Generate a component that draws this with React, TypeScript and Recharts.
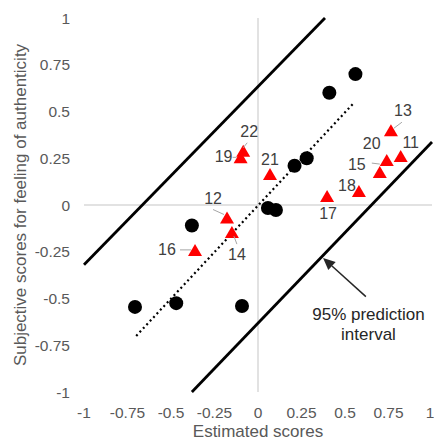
import React from 'react';
import { ScatterChart, Scatter, XAxis, YAxis, ReferenceLine, ReferenceDot } from 'recharts';

// Black circles (estimated score, subjective score)
const circleX = [-0.707, -0.47, -0.38, -0.092, 0.057, 0.103, 0.21, 0.28, 0.41, 0.56];
const circleY = [-0.545, -0.525, -0.11, -0.54, -0.016, -0.027, 0.21, 0.25, 0.6, 0.7];

// Red triangles with their IDs
const triangleIds = [11, 12, 13, 14, 15, 16, 17, 18, 19, 20, 21, 22];
const triangleX = [0.82, -0.178, 0.764, -0.15, 0.7, -0.362, 0.397, 0.58, -0.1, 0.74, 0.069, -0.085];
const triangleY = [0.262, -0.067, 0.4, -0.145, 0.176, -0.24, 0.048, 0.075, 0.255, 0.24, 0.166, 0.29];

// Axis ticks
const axisTicks = [-1, -0.75, -0.5, -0.25, 0, 0.25, 0.5, 0.75, 1];

// Regression line and 95% prediction interval
const regressionLine = [{ x: -0.7, y: -0.7 }, { x: 0.555, y: 0.55 }];
const upperInterval = [{ x: -1, y: -0.32 }, { x: 0.385, y: 1 }];
const lowerInterval = [{ x: -0.38, y: -1 }, { x: 1, y: 0.337 }];
const arrowSegment = [{ x: 0.62, y: -0.49 }, { x: 0.374, y: -0.283 }];
const annotationAnchor = { x: 0.635, y: -0.615 };
const annotationLines = ['95% prediction', 'interval'];

const xTitle = 'Estimated scores';
const yTitle = 'Subjective scores for feeling of authenticity';

// label placement (pixel offsets from the marker)
const labelLayout: Record<number, { dx: number; dy: number; leader?: number[] }> = {
  11: { dx: 10, dy: -14 },
  12: { dx: -14, dy: -19, leader: [-14, -8, -3, -3] },
  13: { dx: 12, dy: -20, leader: [11, -8, 3, -2] },
  14: { dx: 5, dy: 22, leader: [5, 12, 2, 4] },
  15: { dx: -23, dy: -8, leader: [-8, -9, 0, -8] },
  16: { dx: -28, dy: 0, leader: [-15, 0, -4, 0] },
  17: { dx: 1, dy: 17 },
  18: { dx: -12, dy: -5 },
  19: { dx: -17, dy: -1, leader: [-8, 0, -4, 0] },
  20: { dx: -15, dy: -17 },
  21: { dx: 0, dy: -14 },
  22: { dx: 6, dy: -19, leader: [4, -8, 0, -3] },
};

const circleData = circleX.map((x, i) => ({ x, y: circleY[i] }));
const triangleData = triangleIds.map((id, i) => ({ id, x: triangleX[i], y: triangleY[i] }));

const FONT = "Arial, 'Liberation Sans', sans-serif";
const TICK_COLOR = '#595959';

const CircleShape = (props: any) => {
  const { cx, cy } = props;
  if (cx == null || cy == null) return null;
  return <circle cx={cx} cy={cy} r={7} fill="#000" />;
};

const TriangleShape = (props: any) => {
  const { cx, cy } = props;
  if (cx == null || cy == null) return null;
  const w = 14;
  const h = 12;
  const d = `M${cx},${cy - h / 2} L${cx + w / 2},${cy + h / 2} L${cx - w / 2},${cy + h / 2} Z`;
  return <path d={d} fill="#ff0000" />;
};

const LabelShape = (props: any) => {
  const { cx, cy, payload } = props;
  if (cx == null || cy == null || !payload) return null;
  const lay = labelLayout[payload.id];
  if (!lay) return null;
  return (
    <g>
      {lay.leader && (
        <line
          x1={cx + lay.leader[0]}
          y1={cy + lay.leader[1]}
          x2={cx + lay.leader[2]}
          y2={cy + lay.leader[3]}
          stroke="#a6a6a6"
          strokeWidth={1}
        />
      )}
      <text
        x={cx + lay.dx}
        y={cy + lay.dy}
        textAnchor="middle"
        dominantBaseline="central"
        fontSize={16}
        fill="#404040"
        fontFamily={FONT}
      >
        {payload.id}
      </text>
    </g>
  );
};

const ArrowShape = (props: any) => {
  const { x1, y1, x2, y2 } = props;
  if ([x1, y1, x2, y2].some((v) => v == null || isNaN(v))) return null;
  const ang = Math.atan2(y2 - y1, x2 - x1);
  const len = 12;
  const hw = 5.5;
  const bx = x2 - len * Math.cos(ang);
  const by = y2 - len * Math.sin(ang);
  const px = -Math.sin(ang) * hw;
  const py = Math.cos(ang) * hw;
  return (
    <g>
      <line x1={x1} y1={y1} x2={bx} y2={by} stroke="#262626" strokeWidth={1.5} />
      <path d={`M${x2},${y2} L${bx + px},${by + py} L${bx - px},${by - py} Z`} fill="#262626" />
    </g>
  );
};

const AnnotationShape = (props: any) => {
  const { cx, cy } = props;
  if (cx == null || cy == null) return null;
  return (
    <text x={cx} y={cy} textAnchor="middle" fontSize={17} fill="#262626" fontFamily={FONT}>
      {annotationLines.map((t, i) => (
        <tspan key={i} x={cx} dy={i === 0 ? 0 : 20}>
          {t}
        </tspan>
      ))}
    </text>
  );
};

export default function App() {
  return (
    <div style={{ position: 'absolute', left: 0, top: 0, width: 434, height: 442, background: '#fff' }}>
      <ScatterChart
        width={434}
        height={442}
        margin={{ top: 18, right: 2, bottom: 0, left: 0 }}
        style={{ fontFamily: FONT }}
      >
        <XAxis
          type="number"
          dataKey="x"
          domain={[-1, 1]}
          ticks={axisTicks}
          allowDataOverflow
          axisLine={false}
          tickLine={false}
          tickSize={6}
          tickMargin={9}
          height={50}
          tick={{ fill: TICK_COLOR, fontSize: 15.5 }}
          label={{ value: xTitle, position: 'insideBottom', offset: 5, fill: TICK_COLOR, fontSize: 17 }}
        />
        <YAxis
          type="number"
          dataKey="y"
          domain={[-1, 1]}
          ticks={axisTicks}
          allowDataOverflow
          axisLine={false}
          tickLine={false}
          tickSize={6}
          tickMargin={8}
          width={84}
          tick={{ fill: TICK_COLOR, fontSize: 15.5 }}
          label={{
            value: yTitle,
            angle: -90,
            position: 'insideLeft',
            offset: 20,
            fill: TICK_COLOR,
            fontSize: 17,
            style: { textAnchor: 'middle' },
          }}
        />
        <ReferenceLine x={0} stroke="#d9d9d9" strokeWidth={1.5} />
        <ReferenceLine y={0} stroke="#d9d9d9" strokeWidth={1.5} />
        <ReferenceLine segment={upperInterval} stroke="#000" strokeWidth={2.8} ifOverflow="visible" />
        <ReferenceLine segment={lowerInterval} stroke="#000" strokeWidth={2.8} ifOverflow="visible" />
        <ReferenceLine
          segment={regressionLine}
          stroke="#000"
          strokeWidth={2.2}
          strokeDasharray="2 3"
          ifOverflow="visible"
        />
        <ReferenceLine segment={arrowSegment} ifOverflow="visible" shape={ArrowShape} />
        <Scatter data={circleData} shape={CircleShape} isAnimationActive={false} />
        <Scatter data={triangleData} shape={TriangleShape} isAnimationActive={false} />
        <Scatter data={triangleData} shape={LabelShape} isAnimationActive={false} />
        <ReferenceDot
          x={annotationAnchor.x}
          y={annotationAnchor.y}
          r={0}
          ifOverflow="visible"
          shape={AnnotationShape}
        />
      </ScatterChart>
    </div>
  );
}
